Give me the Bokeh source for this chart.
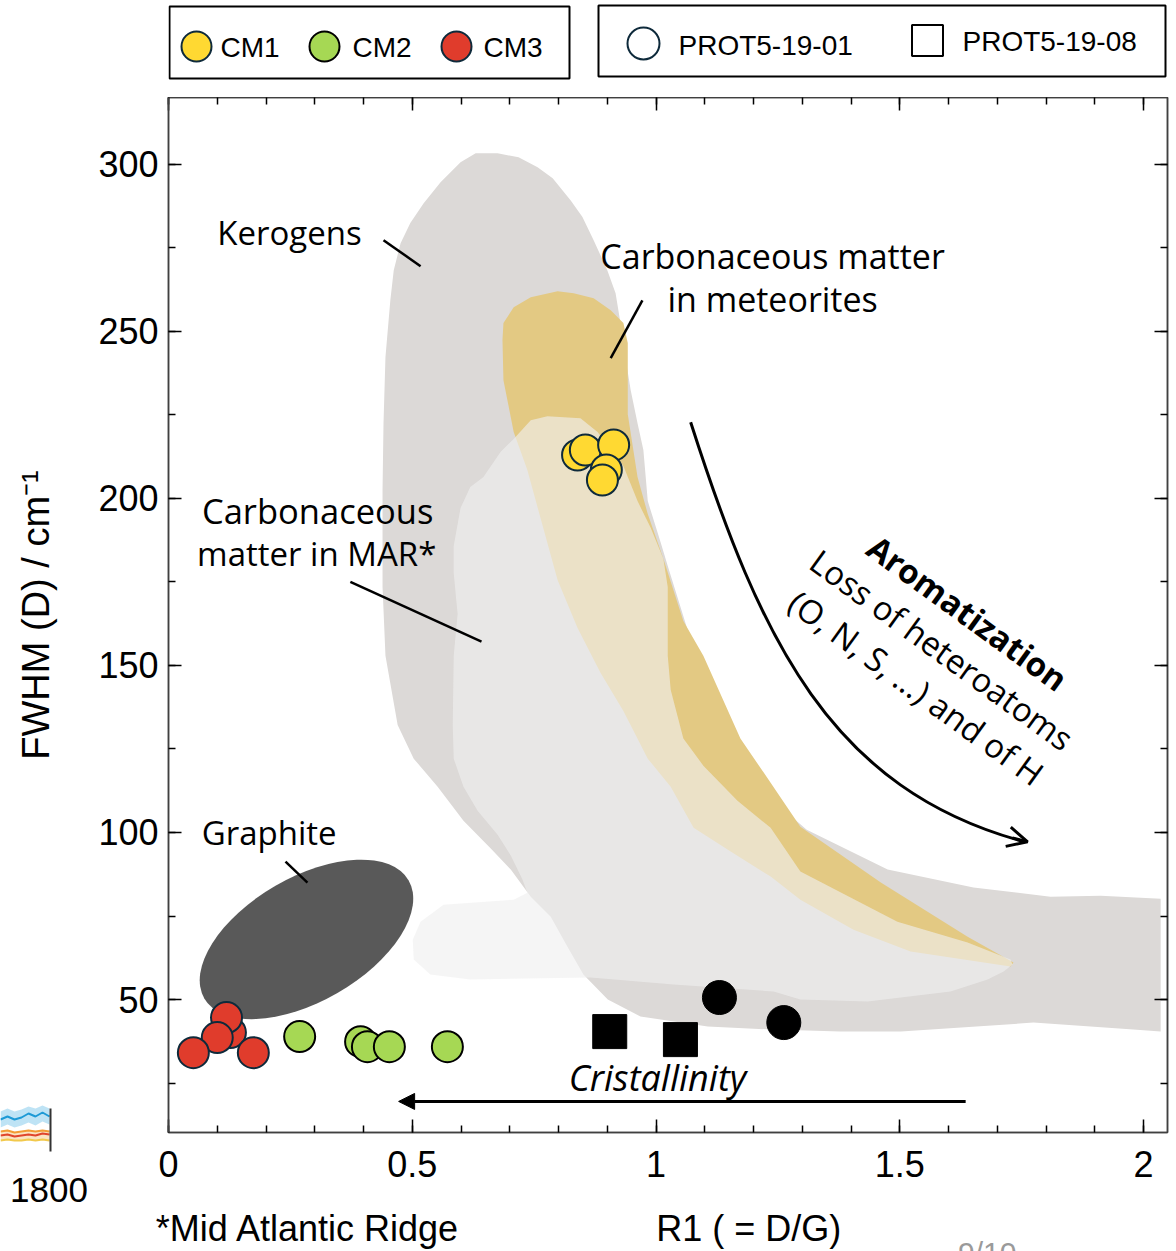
import math
from bokeh.plotting import figure
from bokeh.layouts import column
from bokeh.models import (Range1d, LinearAxis, FixedTicker, NumeralTickFormatter,
                          Arrow, OpenHead, NormalHead, Div)
from bokeh.core.properties import value
from bokeh.embed import file_html
from bokeh.resources import INLINE

# ---------------- measured samples: R1 (= D/G) vs FWHM(D) [cm-1] ----------------
cm1_r1 = [0.839, 0.855, 0.913, 0.898, 0.890]
cm1_fwhm = [213.0, 214.5, 216.0, 208.5, 205.5]
cm2_r1 = [0.269, 0.394, 0.408, 0.453, 0.572]
cm2_fwhm = [38.9, 37.4, 35.9, 35.9, 35.9]
cm3_r1 = [0.127, 0.119, 0.100, 0.051, 0.174]
cm3_fwhm = [40.1, 44.6, 38.6, 34.1, 34.1]
prot01_r1 = [1.130, 1.262]
prot01_fwhm = [50.6, 43.1]
prot08_r1 = [0.905, 1.050]
prot08_fwhm = [40.4, 38.0]

group_names = ["CM1", "CM2", "CM3"]
group_colors = ["#FFD932", "#A6D854", "#E03C2C"]
sample_names = ["PROT5-19-01", "PROT5-19-08"]

# ---------------- literature fields ----------------
kerogen_r1 = [0.599, 0.630, 0.675, 0.718, 0.757, 0.788, 0.825, 0.849, 0.872, 0.900,
              0.917, 0.927, 0.937, 0.948, 0.962, 0.974, 0.983, 1.009, 1.024, 1.071,
              1.132, 1.214, 1.309, 1.475, 1.651, 1.809, 1.912, 2.035, 2.035, 1.979,
              1.774, 1.502, 1.378, 1.241, 1.106, 0.968, 0.901, 0.851, 0.818, 0.784,
              0.743, 0.702, 0.661, 0.605, 0.552, 0.503, 0.470, 0.445, 0.439, 0.439,
              0.441, 0.445, 0.455, 0.462, 0.476, 0.496, 0.523, 0.558]
kerogen_fwhm = [300.6, 303.3, 303.3, 302.1, 299.1, 295.8, 289.2, 284.2, 277.3, 268.3,
                261.4, 252.5, 242.3, 232.4, 222.5, 214.5, 199.2, 187.0, 179.8, 157.7,
                133.7, 112.8, 100.8, 88.9, 83.5, 80.8, 81.1, 80.2, 40.4, 41.0,
                43.1, 40.4, 40.4, 41.0, 41.9, 44.9, 50.0, 57.5, 65.9, 74.8,
                80.8, 88.9, 95.2, 103.5, 113.7, 122.1, 132.2, 152.9, 173.5, 202.5,
                222.5, 242.3, 259.3, 268.3, 276.4, 282.4, 288.3, 294.6]

meteorite_r1 = [0.687, 0.708, 0.743, 0.798, 0.831, 0.872, 0.907, 0.933, 0.942, 0.942,
                0.942, 0.962, 0.983, 1.015, 1.056, 1.097, 1.173, 1.235, 1.296, 1.461,
                1.639, 1.733, 1.727, 1.522, 1.405, 1.296, 1.235, 1.153, 1.077, 1.030,
                0.983, 0.933, 0.886, 0.839, 0.798, 0.763, 0.736, 0.708, 0.687, 0.685]
meteorite_fwhm = [252.5, 257.2, 260.2, 262.0, 261.4, 259.9, 256.3, 252.5, 246.5, 235.4,
                  225.2, 206.4, 195.3, 181.9, 163.3, 152.9, 128.1, 114.9, 101.7, 85.0,
                  68.8, 61.1, 59.9, 64.4, 70.9, 79.9, 86.8, 94.3, 101.4, 113.7,
                  122.1, 136.4, 147.8, 161.2, 175.6, 194.1, 208.5, 219.9, 235.4, 247.4]

mar_r1 = [0.743, 0.777, 0.845, 0.880, 0.933, 0.962, 0.989, 1.015, 1.024, 1.024,
          1.030, 1.056, 1.097, 1.167, 1.235, 1.296, 1.495, 1.639, 1.727, 1.731,
          1.713, 1.680, 1.604, 1.434, 1.296, 1.241, 1.036, 0.866, 0.619, 0.537,
          0.503, 0.501, 0.517, 0.564, 0.708, 0.736, 0.726, 0.702, 0.675, 0.634,
          0.605, 0.585, 0.583, 0.585, 0.593, 0.585, 0.585, 0.599, 0.619, 0.646,
          0.681, 0.708]
mar_fwhm = [223.4, 224.6, 224.0, 219.9, 209.7, 199.2, 191.2, 181.9, 173.5, 152.9,
            142.7, 128.1, 120.0, 109.5, 101.4, 88.3, 73.3, 67.1, 62.0, 60.5,
            58.4, 56.0, 52.4, 49.4, 50.0, 52.4, 54.5, 56.6, 56.0, 57.5,
            62.0, 67.9, 73.3, 78.4, 79.9, 82.0, 85.9, 93.1, 99.3, 106.5,
            113.7, 122.1, 132.2, 152.9, 165.4, 177.7, 185.8, 197.1, 203.4, 206.4,
            213.9, 217.8]

# graphite field: centre, full axes (R1 units, FWHM units) and tilt
graphite_center = (0.283, 68.0)
graphite_size = (0.484, 37.1)
graphite_tilt_deg = 30

x_major = [0, 0.5, 1, 1.5, 2]
x_minor = [round(0.1 * i, 1) for i in range(21)]
y_major = [50, 100, 150, 200, 250, 300]
y_minor = [25 * i for i in range(1, 13)]

# captions written under the R1 tick labels, keyed by their R1 position
caption_pos = [0.286, 1.19]
caption_txt = ["*Mid Atlantic Ridge", "R1 ( = D/G)"]

# corner of the neighbouring time-series panel (its last 50 px)
corner_x = [0, 7, 14, 21, 28, 35, 42, 49]
corner_blue = [1119, 1116, 1119, 1117, 1113, 1116, 1112, 1116]
corner_band_hi = [1111, 1108, 1111, 1109, 1106, 1108, 1105, 1108]
corner_band_lo = [1127, 1124, 1127, 1125, 1122, 1125, 1121, 1124]
corner_orange = [1131, 1130, 1132, 1131, 1130, 1131, 1130, 1131]
corner_red = [1135, 1134, 1136, 1135, 1134, 1135, 1133, 1134]
corner_yellow = [1140, 1139, 1140, 1140, 1139, 1140, 1139, 1140]

TXT = "Open Sans"
SANS = "Liberation Sans"

# ---------------- legend strip (pixel-like coordinates over the frame width) ----------------
leg = figure(width=1176, height=97, x_range=Range1d(168, 1167), y_range=Range1d(97, 0),
             output_backend="svg", toolbar_location=None,
             min_border_left=168, min_border_right=9, min_border_top=0, min_border_bottom=0,
             x_axis_location=None, y_axis_location=None)
leg.grid.visible = False
leg.outline_line_color = None
leg.quad(left=[169, 598], right=[569, 1165], top=[6, 5], bottom=[78, 76],
         fill_color="white", line_color="black", line_width=2)
leg.scatter(x=[196, 324, 456], y=[46, 46, 46], size=30, marker="circle",
            fill_color=group_colors, line_color=["#0E2A3B", "black", "#0E2A3B"],
            line_width=2)
leg.text(x=[220, 352, 483], y=[47, 47, 47], text=group_names,
         text_font=value(SANS), text_font_size="28px", text_align="left",
         text_baseline="middle", text_color="black")
leg.scatter(x=[643], y=[43], size=32, marker="circle", fill_color="white",
            line_color="#0E2A3B", line_width=2)
leg.scatter(x=[927], y=[40], size=31, marker="square", fill_color="white",
            line_color="black", line_width=2)
leg.text(x=[678, 962], y=[45, 41], text=sample_names,
         text_font=value(SANS), text_font_size="28px", text_align="left",
         text_baseline="middle", text_color="black")

# ---------------- main panel ----------------
p = figure(width=1176, height=1154, x_range=Range1d(0, 2.049), y_range=Range1d(10.2, 320),
           output_backend="svg", toolbar_location=None,
           min_border_left=168, min_border_right=9, min_border_top=0, min_border_bottom=118)
xax = p.below[0]
yax = p.left[0]
p.grid.visible = False
p.outline_line_color = "#404040"
p.outline_line_width = 1.5
p.background_fill_color = "white"

p.patch(kerogen_r1, kerogen_fwhm, fill_color="#DCD9D7", line_color=None)
p.patch(meteorite_r1, meteorite_fwhm, fill_color="#E3C983", line_color=None)
p.patch(mar_r1, mar_fwhm, fill_color="#EFEFEF", fill_alpha=0.63, line_color=None)
p.ellipse(x=[graphite_center[0]], y=[graphite_center[1]], width=[graphite_size[0]],
          height=[graphite_size[1]], angle=[math.radians(graphite_tilt_deg)],
          fill_color="#595959", line_color=None)

# leader lines for the field names
p.segment(x0=[0.441, 0.972, 0.373, 0.240], y0=[277.3, 259.3, 175.0, 91.3],
          x1=[0.517, 0.907, 0.642, 0.285], y1=[269.5, 242.0, 157.1, 85.0],
          line_color="black", line_width=2.5)

p.text(x=[0.100, 1.239, 1.239, 0.306, 0.304, 0.068],
       y=[279.7, 272.5, 259.6, 196.5, 183.4, 99.9],
       text=["Kerogens", "Carbonaceous matter", "in meteorites", "Carbonaceous",
             "matter in MAR*", "Graphite"],
       text_align=["left", "center", "center", "center", "center", "left"],
       text_font=value(TXT), text_font_size=["33px", "34px", "34px", "34.5px", "33px", "33px"],
       text_baseline="middle", text_color="black")

# aromatization trend
p.bezier(x0=[1.071], y0=[222.8], x1=[1.756], y1=[97.2],
         cx0=[1.214], cy0=[157.7], cx1=[1.358], cy1=[112.8],
         line_color="black", line_width=3)
p.add_layout(Arrow(end=OpenHead(size=20, line_width=3, line_color="black"),
                   x_start=1.731, y_start=98.4, x_end=1.762, y_end=97.2,
                   line_width=3, line_color="black"))
rot = -math.radians(36)
p.text(x=[1.639], y=[165.7], text=["Aromatization"], angle=rot,
       text_font=value(TXT), text_font_size="33px", text_font_style="bold",
       text_align="center", text_baseline="middle", text_color="black")
p.text(x=[1.586, 1.534], y=[154.7, 143.3],
       text=["Loss of heteroatoms", "(O, N, S, ...) and of H"], angle=rot,
       text_font=value(TXT), text_font_size="33px",
       text_align="center", text_baseline="middle", text_color="black")

# crystallinity trend
p.add_layout(Arrow(end=NormalHead(size=16, fill_color="black", line_color="black"),
                   x_start=1.635, y_start=19.5, x_end=0.472, y_end=19.5,
                   line_width=3, line_color="black"))
p.text(x=[1.003], y=[26.7], text=["Cristallinity"], text_font=value(TXT),
       text_font_size="36px", text_font_style="italic", text_align="center",
       text_baseline="middle", text_color="black")

# samples
p.scatter(prot01_r1, prot01_fwhm, marker="circle", size=34, fill_color="black",
          line_color="black")
p.scatter(prot08_r1, prot08_fwhm, marker="square", size=34, fill_color="black",
          line_color="black")
p.scatter(cm2_r1, cm2_fwhm, marker="circle", size=31, fill_color=group_colors[1],
          line_color="black", line_width=2)
p.scatter(cm3_r1, cm3_fwhm, marker="circle", size=31, fill_color=group_colors[2],
          line_color="#0E2A3B", line_width=2)
p.scatter(cm1_r1, cm1_fwhm, marker="circle", size=31, fill_color=group_colors[0],
          line_color="#0E2A3B", line_width=2)

# axes: ticks pointing inwards on all four sides
xax.ticker = FixedTicker(ticks=x_major, minor_ticks=x_minor)
xax.formatter = NumeralTickFormatter(format="0.[0]")
yax.ticker = FixedTicker(ticks=y_major, minor_ticks=y_minor)
yax.axis_label = "FWHM (D) / cm\u207b\u00b9"
yax.axis_label_text_font = SANS
yax.axis_label_text_font_size = "38px"
yax.axis_label_text_font_style = "normal"
yax.axis_label_text_color = "black"
yax.axis_label_standoff = 38

top_ax = LinearAxis(ticker=FixedTicker(ticks=x_major, minor_ticks=x_minor))
right_ax = LinearAxis(ticker=FixedTicker(ticks=y_major, minor_ticks=y_minor))
p.add_layout(top_ax, "above")
p.add_layout(right_ax, "right")

for ax in [xax, yax, top_ax, right_ax]:
    ax.axis_line_color = "#404040"
    ax.axis_line_width = 1.5
    ax.major_tick_in = 13
    ax.major_tick_out = 0
    ax.minor_tick_in = 7
    ax.minor_tick_out = 0
    ax.major_tick_line_color = "black"
    ax.minor_tick_line_color = "black"
    ax.major_tick_line_width = 1.5
    ax.minor_tick_line_width = 1.5
    ax.major_label_text_font = SANS
    ax.major_label_text_font_size = "36px"
    ax.major_label_text_color = "black"
for ax in [top_ax, right_ax]:
    ax.major_label_text_font_size = "0px"
    ax.major_label_standoff = 0
yax.major_label_standoff = 10
xax.major_label_standoff = 18

# caption row under the R1 axis
overrides = {}
for pos, txt in zip(caption_pos, caption_txt):
    overrides[pos] = txt
    overrides[str(pos)] = txt
cap_ax = LinearAxis(ticker=FixedTicker(ticks=caption_pos, minor_ticks=[]),
                    major_label_overrides=overrides,
                    axis_line_color=None, major_tick_line_color=None,
                    minor_tick_line_color=None, major_tick_in=0, major_tick_out=0,
                    minor_tick_in=0, minor_tick_out=0,
                    major_label_standoff=28, major_label_text_font=SANS,
                    major_label_text_font_size="36px", major_label_text_color="black")
p.add_layout(cap_ax, "below")

# ---------------- corner of the neighbouring panel (bottom-left of the page) ----------------
corner = figure(width=52, height=50, x_range=Range1d(0, 52), y_range=Range1d(1152, 1102),
                output_backend="svg", toolbar_location=None, min_border=0,
                x_axis_location=None, y_axis_location=None,
                styles={"position": "absolute", "left": "0px", "top": "1102px"})
try:
    corner.frame_align = False
except Exception:
    pass
corner.grid.visible = False
corner.outline_line_color = None
corner.varea(x=corner_x, y1=corner_band_hi, y2=corner_band_lo, fill_color="#AEDCF2",
             fill_alpha=0.8)
corner.varea(x=corner_x, y1=corner_orange, y2=corner_yellow, fill_color="#F9D9A8",
             fill_alpha=0.7)
corner.line(corner_x, corner_blue, line_color="#1E9AD6", line_width=2)
corner.line(corner_x, corner_orange, line_color="#F39C34", line_width=2)
corner.line(corner_x, corner_red, line_color="#E0452C", line_width=2)
corner.line(corner_x, corner_yellow, line_color="#F2C94C", line_width=2)
corner.segment(x0=[50], y0=[1108], x1=[50], y1=[1151], line_color="#333333", line_width=2)

# stray slide texts around the figure (neighbouring axis value and page number)
year_div = Div(text="1800", width=90, height=42,
               styles={"position": "absolute", "left": "10px", "top": "1170px",
                       "font-family": "Liberation Sans", "font-size": "35px",
                       "color": "black", "line-height": "40px", "margin": "0"})
page_div = Div(text="9/10", width=80, height=40,
               styles={"position": "absolute", "left": "958px", "top": "1236px",
                       "font-family": "Liberation Sans", "font-size": "30px",
                       "color": "#9a9a9a", "line-height": "34px", "margin": "0"})

layout = column(leg, p, corner, year_div, page_div, spacing=0)
open("out.html", "w").write(file_html(layout, INLINE))
